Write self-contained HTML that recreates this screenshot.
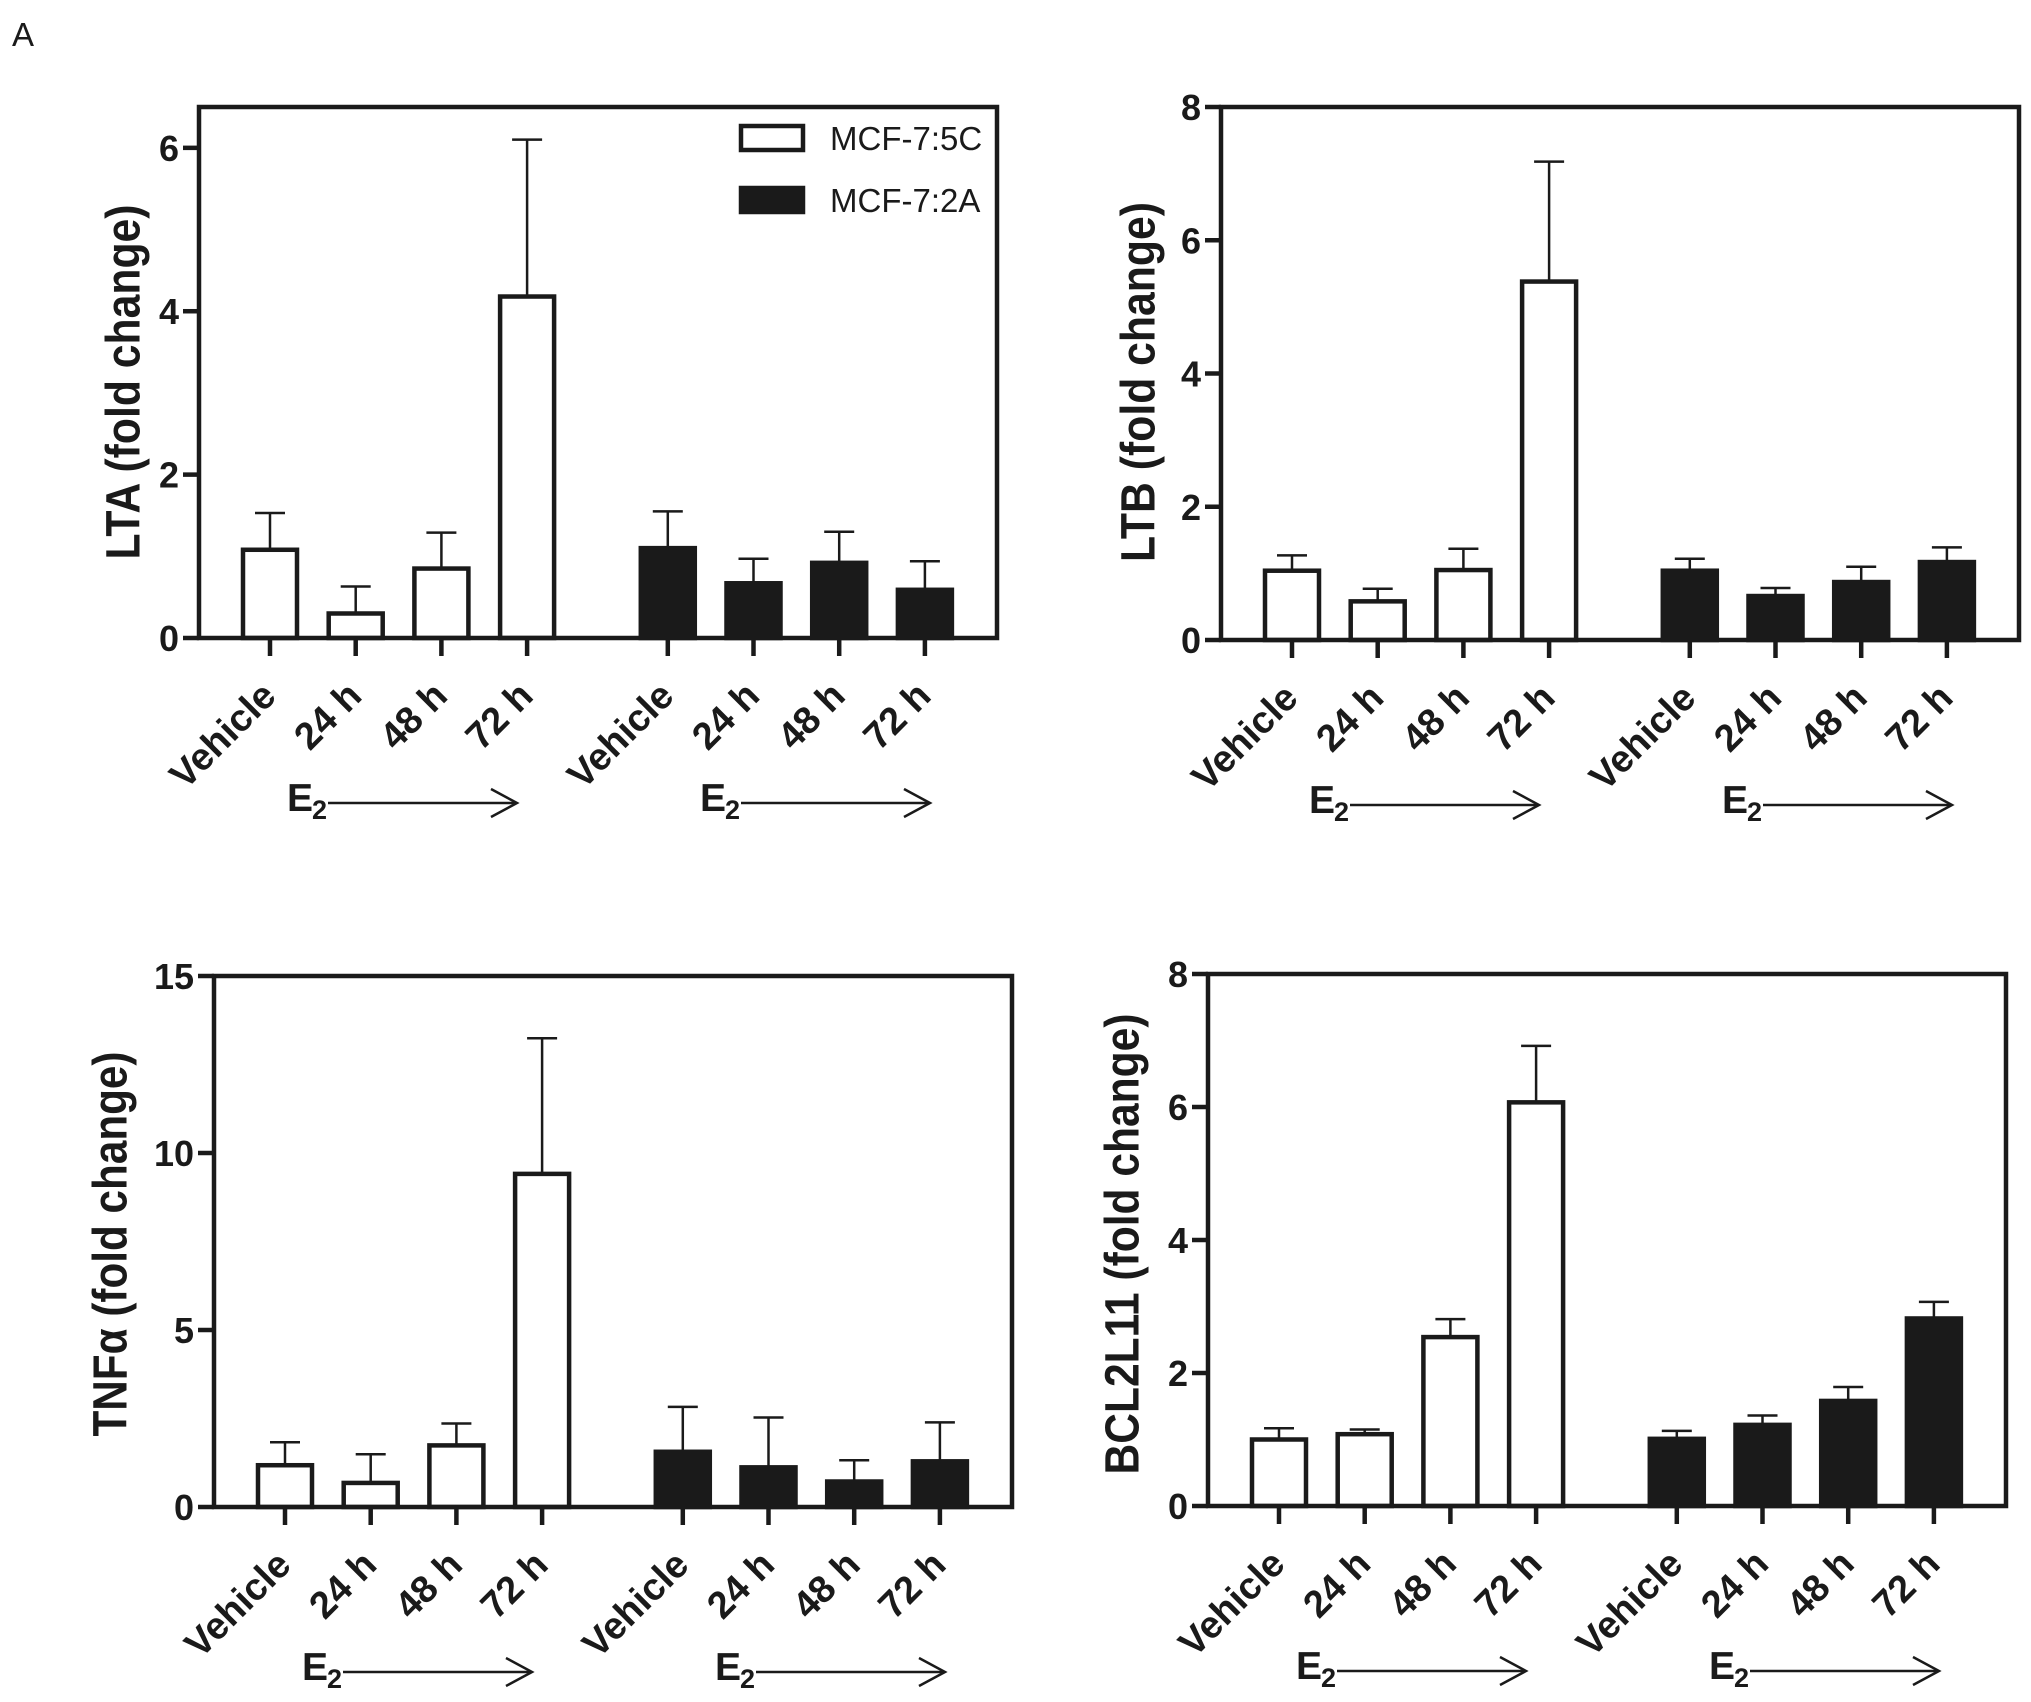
<!DOCTYPE html>
<html><head><meta charset="utf-8"><style>
html,body{margin:0;padding:0;background:#fff;}
svg{display:block;}
text{font-family:"Liberation Sans",Arial,sans-serif;fill:#1a1a1a;}
</style></head><body>
<svg id="fig" width="2031" height="1702" viewBox="0 0 2031 1702" xmlns="http://www.w3.org/2000/svg">
<text x="12" y="46" font-size="33">A</text>
</svg>
<script>
const categories = ["Vehicle","24 h","48 h","72 h","Vehicle","24 h","48 h","72 h"];
const ltaMeans = [1.08,0.3,0.85,4.18,1.1,0.67,0.92,0.59];
const ltaErrs  = [1.53,0.63,1.29,6.1,1.55,0.97,1.3,0.94];
const ltbMeans = [1.04,0.58,1.05,5.38,1.04,0.66,0.87,1.17];
const ltbErrs  = [1.27,0.77,1.37,7.18,1.22,0.78,1.1,1.39];
const tnfMeans = [1.18,0.68,1.74,9.41,1.56,1.12,0.72,1.29];
const tnfErrs  = [1.83,1.49,2.36,13.24,2.83,2.53,1.32,2.39];
const bclMeans = [1.0,1.08,2.54,6.07,1.01,1.22,1.58,2.82];
const bclErrs  = [1.17,1.15,2.81,6.92,1.13,1.36,1.79,3.07];
const ltaTicks = [0,2,4,6];
const ltbTicks = [0,2,4,6,8];
const tnfTicks = [0,5,10,15];
const bclTicks = [0,2,4,6,8];
const legendLabels = ["MCF-7:5C","MCF-7:2A"];

const NS = "http://www.w3.org/2000/svg";
const svg = document.getElementById("fig");
function mk(tag, attrs, parent){
  const e = document.createElementNS(NS, tag);
  for (const k in attrs) e.setAttribute(k, attrs[k]);
  (parent||svg).appendChild(e);
  return e;
}
const INK = "#1a1a1a";

function panel(cfg){
  const g = mk("g", {});
  
  
  const L = cfg.left, T = cfg.top, B = cfg.bottom, W = 798;
  const y = v => B - (v / cfg.ymax) * (B - T);
  const xc = i => L + 71 + i * 85.7 + (i >= 4 ? 55 : 0);

  cfg.means.forEach((m, i) => {
    const black = i >= 4;
    const top = y(m);
    const e = cfg.errs[i];
    const eb = mk("line", {x1: xc(i), x2: xc(i), y1: top, y2: y(e), stroke: INK, "stroke-width": 2.5}, g);
    
    
    const cap = mk("line", {x1: xc(i) - 15, x2: xc(i) + 15, y1: y(e), y2: y(e), stroke: INK, "stroke-width": 2.5}, g);
    
    
    const r = mk("rect", {x: xc(i) - 27, y: top, width: 54, height: B - top,
      fill: black ? INK : "#fff", stroke: INK, "stroke-width": 4.5}, g);
    
    
  });

  const fr = mk("rect", {x: L, y: T, width: W, height: B - T, fill: "none", stroke: INK, "stroke-width": 4.5}, g);
  
  

  cfg.ticks.forEach(t => {
    const tl = mk("line", {x1: L - 16, x2: L, y1: y(t), y2: y(t), stroke: INK, "stroke-width": 4.5}, g);
    
    
    const tx = mk("text", {x: L - 20, y: y(t) + 13, "font-size": 36, "font-weight": "bold", "text-anchor": "end"}, g);
    tx.textContent = t;
    
    
  });

  categories.forEach((c, i) => {
    const tl = mk("line", {x1: xc(i), x2: xc(i), y1: B, y2: B + 18, stroke: INK, "stroke-width": 4.5}, g);
    
    
    const ax = xc(i) + 8, ay = B + 60;
    const tx = mk("text", {x: ax, y: ay, "font-size": 38, "font-weight": "bold", "text-anchor": "end",
      transform: `rotate(-45 ${ax} ${ay})`}, g);
    tx.textContent = c;
    
    
  });

  [0, 413].forEach(off => {
    const ex = L + 88 + off;
    const et = mk("text", {x: ex, y: B + 173, "font-size": 39, "font-weight": "bold"}, g);
    et.textContent = "E";
    
    
    const sub = mk("text", {x: ex + 25, y: B + 181, "font-size": 27, "font-weight": "bold"}, g);
    sub.textContent = "2";
    
    
    const x1 = L + 129 + off, x2 = L + 318 + off, ly = B + 165;
    const ln = mk("line", {x1: x1, x2: x2, y1: ly, y2: ly, stroke: INK, "stroke-width": 2.5}, g);
    
    
    const hd = mk("polyline", {points: `${x2-26},${ly-14} ${x2},${ly} ${x2-26},${ly+14}`, fill: "none", stroke: INK, "stroke-width": 2.5}, g);
    
    
  });

  const tt = mk("text", {x: cfg.tx, y: cfg.ty, "font-size": 48, "font-weight": "bold", "text-anchor": "middle",
    "dominant-baseline": "central", textLength: cfg.tlen, lengthAdjust: "spacingAndGlyphs",
    transform: `rotate(-90 ${cfg.tx} ${cfg.ty})`}, g);
  tt.textContent = cfg.title;
  
  
  return g;
}

const p1 = panel({name: "lta-panel", left: 199, top: 107, bottom: 638, ymax: 6.5, ticks: ltaTicks,
  means: ltaMeans, errs: ltaErrs, title: "LTA (fold change)", tx: 124, ty: 382, tlen: 355});
panel({name: "ltb-panel", left: 1221, top: 107, bottom: 640, ymax: 8, ticks: ltbTicks,
  means: ltbMeans, errs: ltbErrs, title: "LTB (fold change)", tx: 1139, ty: 382, tlen: 360});
panel({name: "tnf-panel", left: 214, top: 976, bottom: 1507, ymax: 15, ticks: tnfTicks,
  means: tnfMeans, errs: tnfErrs, title: "TNFα (fold change)", tx: 111, ty: 1244, tlen: 385});
panel({name: "bcl2l11-panel", left: 1208, top: 974, bottom: 1506, ymax: 8, ticks: bclTicks,
  means: bclMeans, errs: bclErrs, title: "BCL2L11 (fold change)", tx: 1123, ty: 1244, tlen: 461});

const lg = mk("g", {}, p1);


legendLabels.forEach((lab, i) => {
  const yy = 126 + i * 62;
  const sw = mk("rect", {x: 741, y: yy, width: 62, height: 24, fill: i ? INK : "#fff", stroke: INK, "stroke-width": 4.5}, lg);
  
  
  const t = mk("text", {x: 830, y: yy + 24, "font-size": 33}, lg);
  t.textContent = lab;
  
  
});
</script>
</body></html>
